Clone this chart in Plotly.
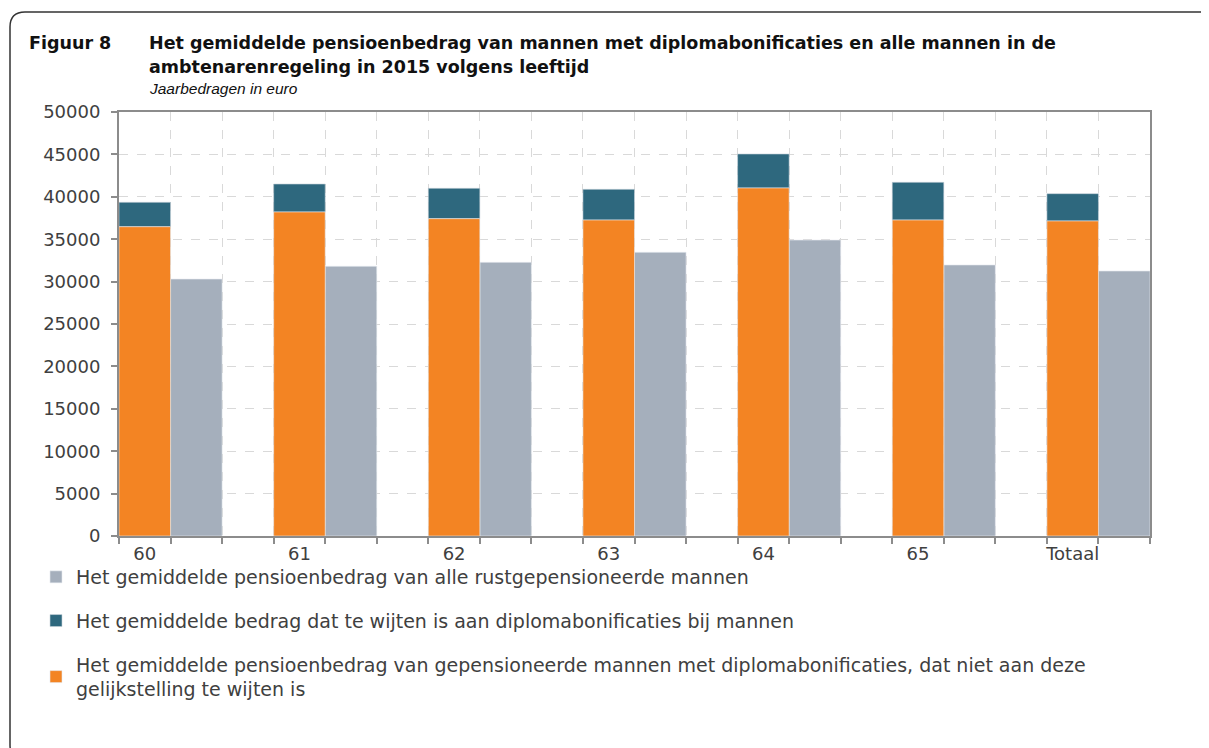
import plotly.graph_objects as go

categories = ["60", "61", "62", "63", "64", "65", "Totaal"]
base_diploma = [36470, 38210, 37420, 37260, 41040, 37260, 37150]
bonus_diploma = [2880, 3300, 3580, 3620, 4010, 4450, 3220]
all_men = [30300, 31800, 32270, 33450, 34900, 31960, 31250]
y_ticks = [0, 5000, 10000, 15000, 20000, 25000, 30000, 35000, 40000, 45000, 50000]

names = {
    "all": "Het gemiddelde pensioenbedrag van alle rustgepensioneerde mannen",
    "bonus": "Het gemiddelde bedrag dat te wijten is aan diplomabonificaties bij mannen",
    "base": "Het gemiddelde pensioenbedrag van gepensioneerde mannen met diplomabonificaties, dat niet aan deze<br>gelijkstelling te wijten is",
}

# page coordinates (the page body has an 8px margin)
OFF = 8
W, H = 1209 - OFF, 748 - OFF
P_L, P_R, P_T, P_B = 119, 1150, 112, 536
ML, MR, MT, MB = P_L - OFF, W - (P_R - OFF), P_T - OFF, H - (P_B - OFF)
PW, PH = P_R - P_L, P_B - P_T


def px(x):
    return (x - P_L) / PW


def py(y):
    return (P_B - y) / PH


# slot layout: each category = [diploma bar, all-men bar, gap]
x_base = [3 * i + 0.5 for i in range(len(categories))]
x_all = [3 * i + 1.5 for i in range(len(categories))]

ORANGE = "#F38423"
TEAL = "#2E687E"
GREY = "#A5AFBC"
FONT = "DejaVu Sans"
TXT = "#404040"

fig = go.Figure()
fig.add_trace(go.Bar(x=x_all, y=all_men, width=1, name=names["all"],
                     marker=dict(color=GREY, line=dict(color="#E6E9EE", width=0.6)),
                     legendgroup="a"))
fig.add_trace(go.Bar(x=x_base, y=bonus_diploma, base=base_diploma, width=1, name=names["bonus"],
                     marker=dict(color=TEAL, line=dict(color="#C9D3DC", width=0.6)),
                     legendgroup="b"))
fig.add_trace(go.Bar(x=x_base, y=base_diploma, width=1, name=names["base"],
                     marker=dict(color=ORANGE, line=dict(color="#E6E9EE", width=0.6)),
                     legendgroup="c"))

fig.update_layout(
    width=W, height=H,
    margin=dict(l=ML, r=MR, t=MT, b=MB, autoexpand=False),
    barmode="overlay",
    paper_bgcolor="white", plot_bgcolor="white",
    font=dict(family=FONT, size=18, color=TXT),
    showlegend=True,
    legend=dict(x=px(36), y=py(558), xanchor="left", yanchor="top",
                orientation="v", traceorder="grouped", tracegroupgap=16,
                font=dict(family=FONT, size=19, color=TXT),
                bgcolor="rgba(0,0,0,0)", itemclick=False),
    xaxis=dict(range=[0, 20], tickvals=x_base, ticktext=categories, ticks="",
               showgrid=False, zeroline=False, showline=True, linecolor="#8C8C8C",
               linewidth=2, mirror=True, tickfont=dict(size=18, color=TXT),
               minor=dict(tick0=0, dtick=1, ticks="outside", ticklen=6, tickwidth=2,
                          tickcolor="#8C8C8C", showgrid=True, griddash="dash",
                          gridcolor="#D9D9D9", gridwidth=1.2)),
    yaxis=dict(range=[0, 50000], tickvals=y_ticks, ticktext=[str(v) for v in y_ticks],
               ticks="outside", ticklen=6, tickwidth=2, tickcolor="#8C8C8C",
               showgrid=True, griddash="dash", gridcolor="#D9D9D9", gridwidth=1.2,
               zeroline=False, showline=True, linecolor="#8C8C8C", linewidth=2,
               mirror=True, ticklabelstandoff=7, tickfont=dict(size=18, color=TXT)),
)

# titles
TF = 17.5
fig.add_annotation(x=px(27), y=py(43), xref="paper", yref="paper", text="<b>Figuur 8</b>",
                   showarrow=False, xanchor="left", yanchor="middle",
                   font=dict(family=FONT, size=TF, color="#111111"))
fig.add_annotation(x=px(147), y=py(43), xref="paper", yref="paper",
                   text="<b>Het gemiddelde pensioenbedrag van mannen met diplomabonificaties en alle mannen in de</b>",
                   showarrow=False, xanchor="left", yanchor="middle",
                   font=dict(family=FONT, size=TF, color="#111111"))
fig.add_annotation(x=px(147), y=py(67), xref="paper", yref="paper",
                   text="<b>ambtenarenregeling in 2015 volgens leeftijd</b>",
                   showarrow=False, xanchor="left", yanchor="middle",
                   font=dict(family=FONT, size=TF, color="#111111"))
fig.add_annotation(x=px(147), y=py(89), xref="paper", yref="paper",
                   text="<i>Jaarbedragen in euro</i>",
                   showarrow=False, xanchor="left", yanchor="middle",
                   font=dict(family="Liberation Sans", size=15.5, color="#111111"))

# rounded frame
L, T, R, B, r = 10, 12, 1222, 760, 15
pts = [("M", L, T + r), ("Q", L, T), ("", L + r, T), ("L", R - r, T), ("Q", R, T), ("", R, T + r),
       ("L", R, B - r), ("Q", R, B), ("", R - r, B), ("L", L + r, B), ("Q", L, B), ("", L, B - r)]
path = " ".join(f"{c}{px(x):.5f},{py(y):.5f}" for c, x, y in pts) + " Z"
fig.add_shape(type="path", path=path, xref="paper", yref="paper",
              line=dict(color="#333333", width=1.5), layer="above")

fig.write_html("out.html")
